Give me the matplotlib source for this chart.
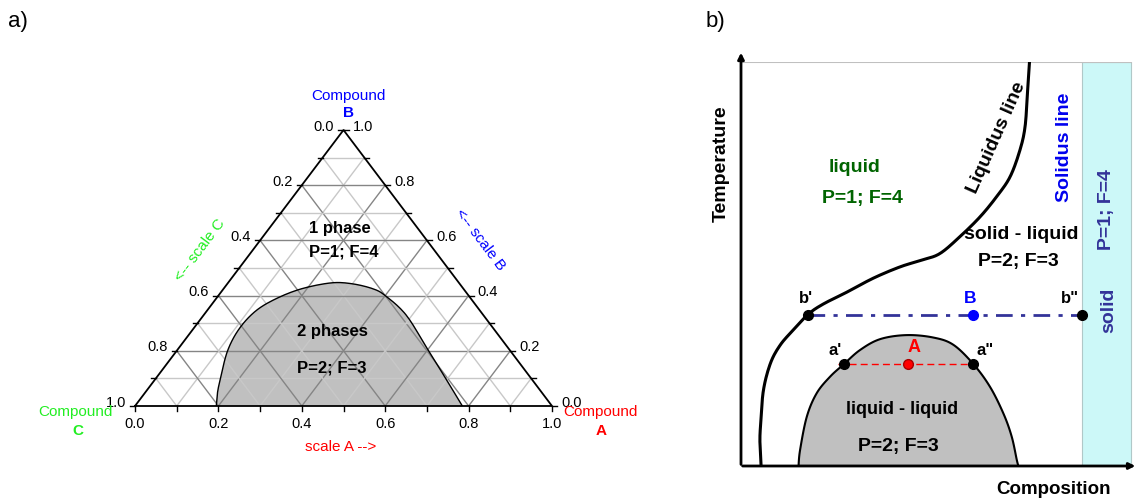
import numpy as np
import matplotlib.pyplot as plt

plt.rcParams['font.family'] = ['Liberation Sans', 'DejaVu Sans']

# ---- panel a: ternary diagram, fractions of A and B (C = 1 - A - B)
tick_vals = [0.0, 0.2, 0.4, 0.6, 0.8, 1.0]
grid_steps = [0.1, 0.2, 0.3, 0.4, 0.5, 0.6, 0.7, 0.8, 0.9]
gap_A = [0.195, 0.173, 0.155, 0.122, 0.110, 0.1175, 0.145, 0.1875, 0.247,
         0.2985, 0.3575, 0.400, 0.485, 0.595, 0.695, 0.785]
gap_B = [0.0, 0.05, 0.10, 0.20, 0.28, 0.345, 0.39, 0.425, 0.446,
         0.443, 0.425, 0.40, 0.33, 0.21, 0.10, 0.0]

# ---- panel b: temperature vs composition (both scaled 0..1)
liquidus_x = [0.051, 0.048, 0.050, 0.057, 0.075, 0.100, 0.133, 0.171, 0.209, 0.268, 0.336,
              0.404, 0.460, 0.505, 0.556, 0.607, 0.649, 0.683, 0.708, 0.721, 0.727, 0.732]
liquidus_T = [0.000, 0.060, 0.106, 0.188, 0.255, 0.300, 0.337, 0.376, 0.401, 0.430, 0.465,
              0.493, 0.510, 0.526, 0.568, 0.617, 0.667, 0.716, 0.782, 0.840, 0.923, 0.997]
lle_x = [0.146, 0.150, 0.167, 0.192, 0.226, 0.261, 0.302, 0.353, 0.420, 0.488, 0.539,
         0.590, 0.632, 0.666, 0.687, 0.700, 0.704]
lle_T = [0.0, 0.040, 0.122, 0.180, 0.221, 0.252, 0.287, 0.314, 0.324, 0.318, 0.300,
         0.252, 0.196, 0.130, 0.073, 0.015, 0.0]
tie_a_T = 0.252
tie_a_x = [0.261, 0.425, 0.590]   # a', A, a"
tie_b_T = 0.375
tie_b_x = [0.171, 0.588, 0.865]   # b', B, b"
solid_x = 0.865


def tern(A, B):
    A = np.asarray(A, float)
    B = np.asarray(B, float)
    return A + B / 2, B


def smooth(x, y, n=12):
    # Catmull-Rom spline through the read-off points
    p = np.column_stack([x, y]).astype(float)
    p = np.vstack([p[0], p, p[-1]])
    out = []
    t = np.linspace(0, 1, n, endpoint=False)[:, None]
    for i in range(1, len(p) - 2):
        p0, p1, p2, p3 = p[i - 1], p[i], p[i + 1], p[i + 2]
        seg = 0.5 * (2 * p1 + (-p0 + p2) * t + (2 * p0 - 5 * p1 + 4 * p2 - p3) * t ** 2
                     + (-p0 + 3 * p1 - 3 * p2 + p3) * t ** 3)
        out.append(seg)
    out.append(p[-2][None, :])
    out = np.vstack(out)
    return out[:, 0], out[:, 1]


fig = plt.figure(figsize=(11.37, 4.99), dpi=100)

# ================= a)
ax = fig.add_axes([135 / 1137, 93 / 499, 417 / 1137, 276 / 499])
ax.set_xlim(0, 1)
ax.set_ylim(0, 1)
ax.axis('off')

gx, gy = smooth(*tern(gap_A, gap_B))
ax.fill(gx, gy, facecolor='#c0c0c0', edgecolor='none', zorder=1)

for k in grid_steps:
    major = abs(k * 5 - round(k * 5)) < 1e-6
    col = '#858585' if major else '#c8c8c8'
    # constant B
    x, y = tern([0, 1 - k], [k, k])
    ax.plot(x, y, color=col, lw=1, zorder=2)
    # constant A
    x, y = tern([k, k], [0, 1 - k])
    ax.plot(x, y, color=col, lw=1, zorder=2)
    # constant C
    x, y = tern([1 - k, 0], [0, 1 - k])
    ax.plot(x, y, color=col, lw=1, zorder=2)

ax.plot(gx, gy, color='black', lw=1, zorder=3)
ax.plot([0, 1, 0.5, 0], [0, 0, 1, 0], color='black', lw=1.3, zorder=4, clip_on=False)

for k in [0.0] + grid_steps + [1.0]:
    ax.plot([k, k], [0, -0.018], color='black', lw=1, clip_on=False)
    ax.plot([k / 2, k / 2 - 0.012], [k, k], color='black', lw=1, clip_on=False)
    ax.plot([1 - k / 2, 1 - k / 2 + 0.012], [k, k], color='black', lw=1, clip_on=False)

for v in tick_vals:
    ax.text(v, -0.065, f'{v:.1f}', ha='center', va='center', fontsize=10.5)
    ax.text(v / 2 - 0.022, v + 0.012, f'{1 - v:.1f}', ha='right', va='center', fontsize=10.5)
    ax.text(1 - v / 2 + 0.022, v + 0.012, f'{v:.1f}', ha='left', va='center', fontsize=10.5)

ax.text(0.511, 1.123, 'Compound', color='blue', ha='center', va='center', fontsize=11)
ax.text(0.511, 1.062, 'B', color='blue', ha='center', va='center', fontsize=11, fontweight='bold')
ax.text(-0.142, -0.023, 'Compound', color='#22ee22', ha='center', va='center', fontsize=11)
ax.text(-0.137, -0.089, 'C', color='#22ee22', ha='center', va='center', fontsize=11, fontweight='bold')
ax.text(1.117, -0.023, 'Compound', color='red', ha='center', va='center', fontsize=11)
ax.text(1.118, -0.089, 'A', color='red', ha='center', va='center', fontsize=11, fontweight='bold')

ax.text(0.492, -0.149, 'scale A -->', color='red', ha='center', va='center', fontsize=11)
ax.text(0.156, 0.565, '<-- scale C', color='#22ee22', ha='center', va='center', fontsize=11, rotation=53)
ax.text(0.827, 0.601, '<-- scale B', color='blue', ha='center', va='center', fontsize=11, rotation=-53)

ax.text(0.492, 0.644, '1 phase', ha='center', va='center', fontsize=12, fontweight='bold', zorder=5)
ax.text(0.500, 0.557, 'P=1; F=4', ha='center', va='center', fontsize=12, fontweight='bold', zorder=5)
ax.text(0.474, 0.269, '2 phases', ha='center', va='center', fontsize=12, fontweight='bold', zorder=5)
ax.text(0.472, 0.137, 'P=2; F=3', ha='center', va='center', fontsize=12, fontweight='bold', zorder=5)

fig.text(18 / 1137, 1 - 22 / 499, 'a)', ha='center', va='center', fontsize=16)
fig.text(715 / 1137, 1 - 22 / 499, 'b)', ha='center', va='center', fontsize=16)

# ================= b)
bx = fig.add_axes([741 / 1137, 33 / 499, 394 / 1137, 404 / 499])
bx.set_xlim(0, 1)
bx.set_ylim(0, 1)
bx.axis('off')

bx.axvspan(solid_x, 0.99, facecolor='#ccf8f8', edgecolor='#b0c8c8', lw=0.8, zorder=0)
bx.plot([0, 0.99], [1, 1], color='#c0c0c0', lw=1.5, zorder=1)

bx.annotate('', xy=(0, 1.03), xytext=(0, -0.003),
            arrowprops=dict(arrowstyle='-|>', color='black', lw=2, mutation_scale=9),
            annotation_clip=False)
bx.annotate('', xy=(1.008, 0), xytext=(-0.003, 0),
            arrowprops=dict(arrowstyle='-|>', color='black', lw=2, mutation_scale=9),
            annotation_clip=False)

lx, lt = smooth(lle_x, lle_T)
bx.fill(lx, lt, facecolor='#c0c0c0', edgecolor='black', lw=1.5, zorder=2)
qx, qt = smooth(liquidus_x, liquidus_T)
bx.plot(qx, qt, color='black', lw=2.2, zorder=3)

bx.plot([tie_b_x[0], tie_b_x[2]], [tie_b_T, tie_b_T], color='#333399', lw=2,
        ls=(0, (6, 3, 1.5, 3)), zorder=4)
bx.plot([tie_b_x[0], tie_b_x[2]], [tie_b_T, tie_b_T], 'o', color='black', ms=7, zorder=5)
bx.plot([tie_b_x[1]], [tie_b_T], 'o', color='blue', ms=7, zorder=5)

bx.plot([tie_a_x[0] - 0.015, tie_a_x[2]], [tie_a_T, tie_a_T], color='red', lw=1,
        ls=(0, (5, 3)), zorder=4)
bx.plot([tie_a_x[0], tie_a_x[2]], [tie_a_T, tie_a_T], 'o', color='black', ms=7, zorder=5)
bx.plot([tie_a_x[1]], [tie_a_T], 'o', color='red', mec='#aa0000', ms=7, zorder=5)

bf = dict(ha='center', va='center', fontweight='bold')
bx.text(tie_b_x[0] - 0.006, 0.415, "b'", fontsize=12, **bf)
bx.text(tie_b_x[1] - 0.007, 0.415, 'B', fontsize=12.5, color='blue', **bf)
bx.text(tie_b_x[2] - 0.030, 0.415, 'b"', fontsize=12, **bf)
bx.text(tie_a_x[0] - 0.022, 0.285, "a'", fontsize=12, **bf)
bx.text(tie_a_x[1] + 0.013, 0.293, 'A', fontsize=13, color='red', **bf)
bx.text(tie_a_x[2] + 0.029, 0.285, 'a"', fontsize=12, **bf)

green = '#006400'
bx.text(0.289, 0.740, 'liquid', fontsize=14, color=green, **bf)
bx.text(0.307, 0.663, 'P=1; F=4', fontsize=14, color=green, **bf)
bx.text(0.648, 0.812, 'Liquidus line', fontsize=14, rotation=66, **bf)
bx.text(0.822, 0.790, 'Solidus line', fontsize=14, color='#0000ee', rotation=90, **bf)
bx.text(0.712, 0.572, 'solid - liquid', fontsize=14, **bf)
bx.text(0.704, 0.506, 'P=2; F=3', fontsize=14, **bf)
bx.text(0.928, 0.634, 'P=1; F=4', fontsize=14, color='#333399', rotation=90, **bf)
bx.text(0.933, 0.386, 'solid', fontsize=14, color='#333399', rotation=90, **bf)
bx.text(0.408, 0.139, 'liquid - liquid', fontsize=13, **bf)
bx.text(0.400, 0.048, 'P=2; F=3', fontsize=14, **bf)
bx.text(-0.049, 0.749, 'Temperature', fontsize=14, rotation=90, **bf)
bx.text(0.793, -0.059, 'Composition', fontsize=13.5, **bf)

fig.savefig('out.png', dpi=100)
